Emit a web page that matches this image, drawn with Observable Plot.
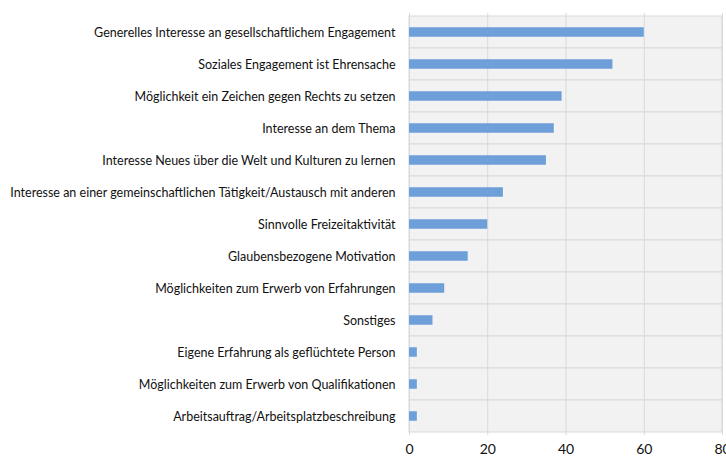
<!DOCTYPE html>
<html>
<head>
<meta charset="utf-8">
<script src="https://cdn.jsdelivr.net/npm/d3@7"></script>
<script src="https://cdn.jsdelivr.net/npm/@observablehq/plot@0.6"></script>
<style>
  html, body { margin: 0; padding: 0; background: #fff; overflow: hidden; }
  #chart svg { display: block; overflow: visible; }
</style>
</head>
<body>
<div id="chart"></div>
<script>
const categories = [
  "Generelles Interesse an gesellschaftlichem Engagement",
  "Soziales Engagement ist Ehrensache",
  "Möglichkeit ein Zeichen gegen Rechts zu setzen",
  "Interesse an dem Thema",
  "Interesse Neues über die Welt und Kulturen zu lernen",
  "Interesse an einer gemeinschaftlichen Tätigkeit/Austausch mit anderen",
  "Sinnvolle Freizeitaktivität",
  "Glaubensbezogene Motivation",
  "Möglichkeiten zum Erwerb von Erfahrungen",
  "Sonstiges",
  "Eigene Erfahrung als geflüchtete Person",
  "Möglichkeiten zum Erwerb von Qualifikationen",
  "Arbeitsauftrag/Arbeitsplatzbeschreibung"
];
const values = [60, 52, 39, 37, 35, 24, 20, 15, 9, 6, 2, 2, 2];
const xTicks = [0, 20, 40, 60, 80];

const data = categories.map((c, i) => ({category: c, value: values[i]}));

const chart = Plot.plot({
  width: 726,
  height: 462,
  marginLeft: 409,
  marginRight: 4,
  marginTop: 13,
  marginBottom: 27,
  style: {fontFamily: "Lato, 'Open Sans', sans-serif", background: "#fff"},
  x: {domain: [0, 80], ticks: xTicks, label: null},
  y: {domain: categories, padding: 0, label: null},
  marks: [
    Plot.barX(categories, {x1: 0, x2: 80, y: d => d, fill: "#f2f2f2", stroke: "#d9d9d9", strokeWidth: 1}),
    Plot.ruleX(xTicks, {x: d => d, stroke: "#d9d9d9", strokeWidth: 1}),
    Plot.barX(data, {x: "value", y: "category", fill: "#6e9fd9", insetTop: 11.25, insetBottom: 11.25}),
    Plot.axisY({tickSize: 0, tickPadding: 14, fontSize: 12.5, fill: "#111", label: null}),
    Plot.axisX({ticks: xTicks, tickSize: 0, tickPadding: 9, fontSize: 14, fill: "#111", label: null})
  ]
});
document.getElementById("chart").appendChild(chart);
</script>
</body>
</html>
